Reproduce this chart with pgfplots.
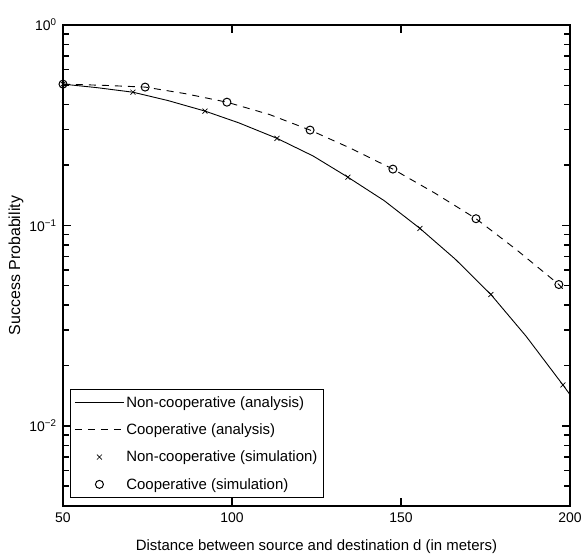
\documentclass[border=0pt]{standalone}
\usepackage{fontspec}
\setmainfont{Liberation Sans}
\usepackage{pgfplots}
\pgfplotsset{compat=1.18}
\begin{document}
\begin{tikzpicture}
\begin{axis}[
  at={(0,0)}, anchor=south west,
  scale only axis,
  width=507bp, height=481bp,
  ymode=log,
  xmin=50, xmax=200, ymin=0.00398, ymax=1,
  xtick={50,100,150,200},
  ytick={1,0.1,0.01},
  minor ytick={0.004,0.005,0.006,0.007,0.008,0.009,0.02,0.03,0.04,0.05,0.06,0.07,0.08,0.09,0.2,0.3,0.4,0.5,0.6,0.7,0.8,0.9},
  yticklabels={10\textsuperscript{0},10\textsuperscript{−1},10\textsuperscript{−2}},
  /pgf/number format/assume math mode=true,
  tick align=inside,
  xtick pos=both, ytick pos=both,
  major tick length=8bp, minor tick length=6bp,
  axis line style={line width=1.1bp},
  major tick style={draw=black, line width=1.6bp},
  minor tick style={draw=black, line width=1.4bp},
  xticklabel style={font=\fontsize{14}{16}\selectfont, yshift=-3bp},
  yticklabel style={font=\fontsize{14}{16}\selectfont, xshift=-3bp},
  xlabel={Distance between source and destination d (in meters)},
  ylabel={Success  Probability},
  every axis x label/.style={at={(axis description cs:0.5,-0.0852)},anchor=center,font=\fontsize{15}{17}\selectfont},
  every axis y label/.style={at={(axis description cs:-0.0927,0.5)},rotate=90,anchor=center,font=\fontsize{16}{18}\selectfont},
  legend style={at={(axis description cs:0.0138,0.0166)}, anchor=south west,
    draw=black, line width=1bp, font=\fontsize{15}{17}\selectfont,
    inner xsep=4bp, inner ysep=5bp, row sep=11bp},
  legend cell align=left,
  legend image code/.code={\draw[mark repeat=2,mark phase=2,#1] plot coordinates {(0bp,0bp) (24.5bp,0bp) (49bp,0bp)};},
]
\addplot[black, line width=0.9bp, mark=none] coordinates {
(50,0.507) (60,0.487) (70.7,0.462) (81,0.42) (92,0.372) (102,0.325) (113.3,0.272) (124,0.222) (134.3,0.174) (145,0.133) (155.6,0.0966) (166,0.068) (176.6,0.0452) (187,0.028) (197.9,0.0160) (200,0.0143)
};
\addlegendentry{Non-cooperative (analysis)}
\addplot[black, line width=0.9bp, dash pattern=on 7bp off 6bp, mark=none] coordinates {
(50,0.507) (62,0.50) (74.3,0.49) (86,0.455) (98.5,0.412) (111,0.358) (123.1,0.299) (135,0.243) (147.6,0.191) (160,0.145) (172.2,0.108) (184,0.076) (196.7,0.0507) (198,0.048)
};
\addlegendentry{Cooperative (analysis)}
\addplot[black, only marks, mark=x, mark size=3.5bp, line width=0.7bp] coordinates {
(50,0.507) (70.7,0.462) (92.0,0.372) (113.3,0.272) (134.3,0.174) (155.6,0.0966) (176.6,0.0452) (197.9,0.0160)
};
\addlegendentry{Non-cooperative (simulation)}
\addplot[black, only marks, mark=o, mark size=4bp, line width=1bp] coordinates {
(50,0.507) (74.3,0.49) (98.5,0.412) (123.1,0.299) (147.6,0.191) (172.2,0.108) (196.7,0.0507)
};
\addlegendentry{Cooperative (simulation)}
\end{axis}
\pgfresetboundingbox
\path[use as bounding box] (-63bp,-48bp) rectangle (519bp,506bp);
\end{tikzpicture}
\end{document}
